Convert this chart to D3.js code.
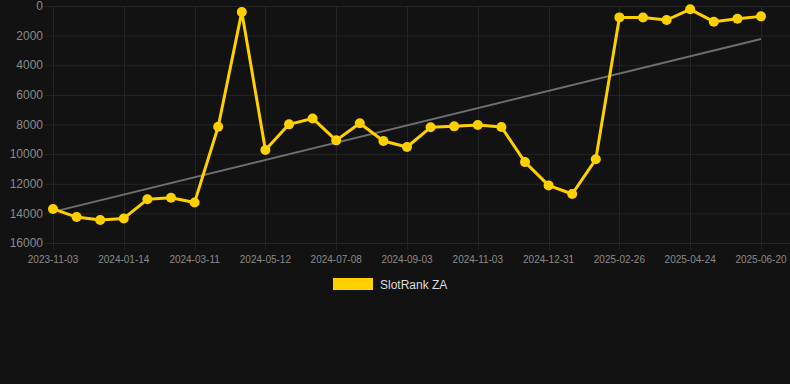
<!DOCTYPE html>
<html>
<head>
<meta charset="utf-8">
<script src="https://cdn.jsdelivr.net/npm/d3@7"></script>
<style>
  html, body { margin: 0; padding: 0; background: #121212; }
  svg { display: block; font-family: "Liberation Sans", Arial, sans-serif; }
</style>
</head>
<body>
<div id="chart"></div>
<script>
// dates on the x axis (every third one is labelled)
var dates = [
  "2023-11-03", "2023-11-27", "2023-12-21", "2024-01-14", "2024-02-02", "2024-02-21",
  "2024-03-11", "2024-03-31", "2024-04-21", "2024-05-12", "2024-05-31", "2024-06-19",
  "2024-07-08", "2024-07-27", "2024-08-15", "2024-09-03", "2024-09-23", "2024-10-13",
  "2024-11-03", "2024-11-22", "2024-12-12", "2024-12-31", "2025-01-19", "2025-02-07",
  "2025-02-26", "2025-03-17", "2025-04-05", "2025-04-24", "2025-05-13", "2025-06-01",
  "2025-06-20"
];
var ranks = [
  13700, 14250, 14450, 14340, 13050, 12940, 13260, 8150, 400, 9720, 7990,
  7590, 9070, 7920, 9115, 9520, 8190, 8125, 8035, 8170, 10540, 12110,
  12690, 10350, 770, 780, 945, 225, 1060, 855, 700
];
var trend = [13900, 2230];
var yTicks = [0, 2000, 4000, 6000, 8000, 10000, 12000, 14000, 16000];
var seriesName = "SlotRank ZA";

var width = 790, height = 384;

var svg = d3.select("#chart")
  .append("svg")
  .attr("width", width)
  .attr("height", height);

var x = d3.scalePoint()
  .domain(dates)
  .range([53, 761]);

var y = d3.scaleLinear()
  .domain([0, 16000])
  .range([6, 243]);

var labelled = dates.filter(function (d, i) { return i % 3 === 0; });

// grid
svg.append("g")
  .selectAll("line")
  .data(yTicks)
  .enter()
  .append("line")
  .attr("x1", 45)
  .attr("x2", 790)
  .attr("y1", function (d) { return y(d) + 0.5; })
  .attr("y2", function (d) { return y(d) + 0.5; })
  .attr("stroke", "#242424");

svg.append("g")
  .selectAll("line")
  .data(labelled)
  .enter()
  .append("line")
  .attr("x1", function (d) { return Math.round(x(d)) + 0.5; })
  .attr("x2", function (d) { return Math.round(x(d)) + 0.5; })
  .attr("y1", 6)
  .attr("y2", 250)
  .attr("stroke", "#242424");

// y labels
svg.append("g")
  .selectAll("text")
  .data(yTicks)
  .enter()
  .append("text")
  .attr("x", 43)
  .attr("y", function (d) { return y(d); })
  .attr("dy", "0.35em")
  .attr("text-anchor", "end")
  .attr("fill", "#8a8a8a")
  .style("font-size", "12px")
  .text(function (d) { return d; });

// x labels
svg.append("g")
  .selectAll("text")
  .data(labelled)
  .enter()
  .append("text")
  .attr("x", function (d) { return x(d); })
  .attr("y", 263)
  .attr("text-anchor", "middle")
  .attr("fill", "#8a8a8a")
  .style("font-size", "10px")
  .text(function (d) { return d; });

// trend line
svg.append("line")
  .attr("x1", x(dates[0]))
  .attr("y1", y(trend[0]))
  .attr("x2", x(dates[dates.length - 1]))
  .attr("y2", y(trend[1]))
  .attr("stroke", "#6e6e6e")
  .attr("stroke-width", 2);

// series
var line = d3.line()
  .x(function (d, i) { return x(dates[i]); })
  .y(function (d) { return y(d); });

svg.append("path")
  .datum(ranks)
  .attr("d", line)
  .attr("fill", "none")
  .attr("stroke", "#ffd000")
  .attr("stroke-width", 3)
  .attr("stroke-linejoin", "round");

svg.append("g")
  .selectAll("circle")
  .data(ranks)
  .enter()
  .append("circle")
  .attr("cx", function (d, i) { return x(dates[i]); })
  .attr("cy", function (d) { return y(d); })
  .attr("r", 5)
  .attr("fill", "#ffd000");

// legend
svg.append("rect")
  .attr("x", 333)
  .attr("y", 278)
  .attr("width", 40)
  .attr("height", 12)
  .attr("fill", "#ffd000");

svg.append("text")
  .attr("x", 380)
  .attr("y", 289)
  .attr("fill", "#dddddd")
  .style("font-size", "12px")
  .text(seriesName);
</script>
</body>
</html>
